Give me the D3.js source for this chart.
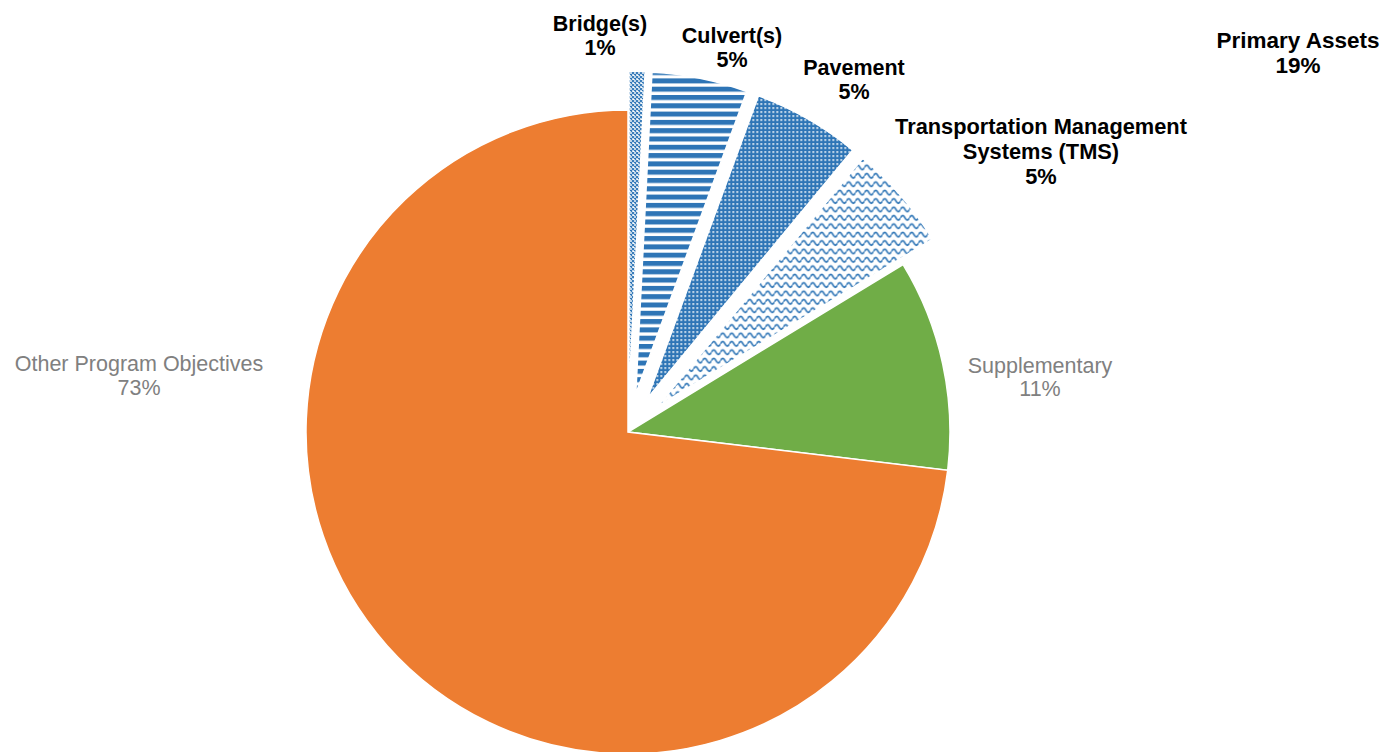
<!DOCTYPE html>
<html>
<head>
<meta charset="utf-8">
<script src="https://cdn.jsdelivr.net/npm/d3@7"></script>
<style>
  html, body { margin: 0; padding: 0; background: #fff; }
  svg { display: block; }
  text { font-family: "Liberation Sans", Arial, sans-serif; }
</style>
</head>
<body>
<svg id="chart" width="1387" height="752"></svg>
<script>
// ---- data ----
const categories = ["Bridge(s)", "Culvert(s)", "Pavement", "Transportation Management Systems (TMS)", "Supplementary", "Other Program Objectives"];
const values = [0.8, 4.8, 5.4, 5.3, 10.6, 73.1];
const percentLabels = ["1%", "5%", "5%", "5%", "11%", "73%"];
const primaryFlags = [true, true, true, true, false, false];
const groupLabel = ["Primary Assets", "19%"];

// ---- layout / style ----
const W = 1387, H = 752;
const cx = 628, cy = 432, R = 322, explode = 39;
const blue = "#2E75B6";
const svg = d3.select("#chart");
const defs = svg.append("defs");

// Bridge: small crosshatch
const pB = defs.append("pattern").attr("id", "pBridge").attr("patternUnits", "userSpaceOnUse")
  .attr("width", 4).attr("height", 4);
pB.append("rect").attr("width", 4).attr("height", 4).attr("fill", "#fff");
pB.append("path").attr("d", "M0,0 L4,4 M4,0 L0,4").attr("stroke", blue).attr("stroke-width", 1.1);

// Culvert: horizontal stripes
const pC = defs.append("pattern").attr("id", "pCulvert").attr("patternUnits", "userSpaceOnUse")
  .attr("width", 8).attr("height", 8.3);
pC.append("rect").attr("width", 8).attr("height", 8.3).attr("fill", "#fff");
pC.append("rect").attr("y", 0).attr("width", 8).attr("height", 5).attr("fill", blue);

// Pavement: blue with white dots grid
const pP = defs.append("pattern").attr("id", "pPavement").attr("patternUnits", "userSpaceOnUse")
  .attr("width", 4).attr("height", 4);
pP.append("rect").attr("width", 4).attr("height", 4).attr("fill", blue);
pP.append("rect").attr("x", 1).attr("y", 1).attr("width", 1.7).attr("height", 1.7).attr("fill", "#fff");

// TMS: waves
const pT = defs.append("pattern").attr("id", "pTMS").attr("patternUnits", "userSpaceOnUse")
  .attr("width", 9).attr("height", 8.4);
pT.append("rect").attr("width", 9).attr("height", 8.4).attr("fill", "#fff");
pT.append("path").attr("d", "M0,4.5 Q2.25,0 4.5,4.5 T9,4.5").attr("fill", "none")
  .attr("stroke", blue).attr("stroke-width", 1.7);

const fills = ["url(#pBridge)", "url(#pCulvert)", "url(#pPavement)", "url(#pTMS)", "#70AD47", "#ED7D31"];

const pie = d3.pie().sort(null).value(d => d)(values);
const arc = d3.arc().innerRadius(0).outerRadius(R);

const g = svg.append("g").attr("transform", `translate(${cx},${cy})`);
g.selectAll("path.slice").data(pie).join("path")
  .attr("class", "slice")
  .attr("d", arc)
  .attr("fill", (d, i) => fills[i])
  .attr("stroke", "#fff")
  .attr("stroke-width", 1.5)
  .attr("transform", (d, i) => {
    if (!primaryFlags[i]) return null;
    const m = (d.startAngle + d.endAngle) / 2;
    return `translate(${explode * Math.sin(m)},${-explode * Math.cos(m)})`;
  });

// ---- labels ----
function label(lines, x, y0, lh, bold, color, fs) {
  const t = svg.append("text").attr("text-anchor", "middle")
    .attr("font-size", fs || 21.5).attr("font-weight", bold ? "bold" : "normal").attr("fill", color);
  lines.forEach((s, k) => t.append("tspan").attr("x", x).attr("y", y0 + k * lh).text(s));
}
label([categories[0], percentLabels[0]], 600, 31, 24, true, "#000");
label([categories[1], percentLabels[1]], 732, 43, 24, true, "#000");
label([categories[2], percentLabels[2]], 854, 75, 24, true, "#000");
label(["Transportation Management", "Systems (TMS)", percentLabels[3]], 1041, 134, 25, true, "#000", 21.8);
label(groupLabel, 1298, 48, 25, true, "#000", 22.5);
label([categories[4], percentLabels[4]], 1040, 373, 23, false, "#808080");
label([categories[5], percentLabels[5]], 139, 371, 24, false, "#808080");
</script>
</body>
</html>
